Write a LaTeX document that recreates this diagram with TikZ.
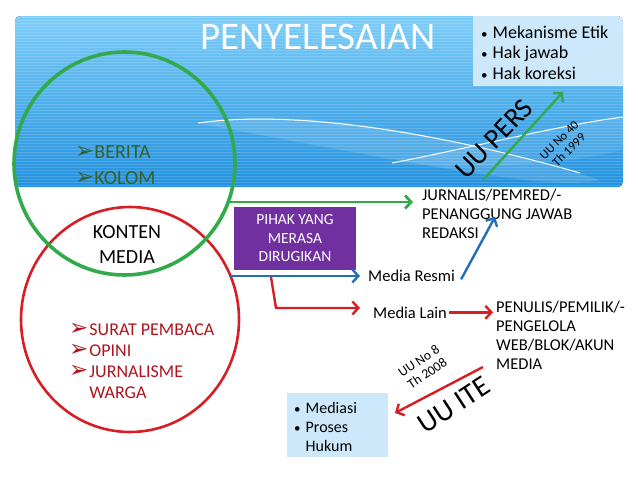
\documentclass[tikz,border=0pt]{standalone}
\usepackage{fontspec}
\setmainfont{Carlito}
\newfontfamily\dejavu{DejaVu Sans}
\usetikzlibrary{arrows.meta,shapes.geometric}
\definecolor{bTop}{RGB}{125,205,248}
\definecolor{bBot}{RGB}{35,145,222}
\definecolor{boxblue}{RGB}{204,232,250}
\definecolor{cgreen}{RGB}{50,170,75}
\definecolor{cred}{RGB}{215,30,35}
\definecolor{cblue}{RGB}{35,110,185}
\definecolor{cpurple}{RGB}{112,48,160}
\definecolor{tdred}{RGB}{175,20,30}
\definecolor{tgreen}{RGB}{55,95,40}
\newcommand{\arrb}{{\dejavu\fontsize{23}{16}\selectfont ➢}}
\newcommand{\dotb}{{\fontsize{13}{13}\selectfont •}}
\begin{document}
\begin{tikzpicture}[x=1pt,y=-1pt,
  arrow/.style={line width=2.4pt,-{Straight Barb[length=6pt,width=13pt]}},
  lbl/.style={inner sep=0pt,anchor=base west,font=\fontsize{16.5}{19}\selectfont},
  plainbox/.style={fill=boxblue,inner sep=0pt,anchor=north west}]
\useasboundingbox (0,0) rectangle (638,479);
% banner
\begin{scope}
  \clip[rounded corners=5pt] (15,16) rectangle (623,187);
  \fill[top color=bTop,bottom color=bBot] (15,16) rectangle (623,187);
  \foreach \yy in {17,20,...,186} \draw[white,opacity=0.16,line width=1pt] (15,\yy) -- (623,\yy);
  \fill[white,opacity=0.14] (198,123) .. controls (290,108) and (430,128) .. (600,180)
     .. controls (560,190) and (470,175) .. (198,123) -- cycle;
  \fill[white,opacity=0.10] (392,163) .. controls (470,150) and (560,125) .. (623,117)
     -- (623,150) .. controls (560,165) and (480,170) .. (392,163) -- cycle;
  \draw[white,line width=1pt] (198,123) .. controls (290,110) and (430,130) .. (580,173);
  \draw[white,line width=1pt] (392,163) .. controls (470,148) and (560,125) .. (623,117);
  \node[plainbox,minimum width=150,minimum height=70] (topbox) at (473,16) {};
\end{scope}
\node[font=\fontsize{39}{42}\selectfont,text=white,anchor=base,inner sep=0pt] (title) at (318,49) {PENYELESAIAN};
\node[lbl,font=\fontsize{18}{20.5}\selectfont] (toplist) at (481,38) {\begin{tabular}[t]{@{}l@{\hspace{5pt}}l@{}}\dotb&Mekanisme Etik\\\dotb&Hak jawab\\\dotb&Hak koreksi\end{tabular}};
% circles
\node[draw=cred,line width=2.6pt,ellipse,minimum width=218,minimum height=225,inner sep=0pt] (rc) at (130,319.5) {};
\node[draw=cgreen,line width=3.6pt,ellipse,minimum width=221,minimum height=223,inner sep=0pt] (gc) at (124.5,163.5) {};
\node[lbl,text=tgreen,font=\fontsize{20}{26}\selectfont] (berita) at (75,158) {\begin{tabular}[t]{@{}l@{\hspace{0pt}}l@{}}\arrb&BERITA\\\arrb&KOLOM\end{tabular}};
\node[inner sep=0pt,align=center,font=\fontsize{20}{25}\selectfont] (konten) at (127,245) {KONTEN\\MEDIA};
\node[lbl,text=tdred,font=\fontsize{18}{21.3}\selectfont] (surat) at (69,335) {\begin{tabular}[t]{@{}l@{\hspace{1pt}}l@{}}\arrb&SURAT PEMBACA\\\arrb&OPINI\\\arrb&JURNALISME\\&WARGA\end{tabular}};
% purple box
\node[fill=cpurple,text=white,minimum width=122,minimum height=63,inner sep=0pt,align=center,font=\fontsize{15.5}{18.5}\selectfont] (pihak) at (295,238.5) {PIHAK YANG\\MERASA\\DIRUGIKAN};
% right texts
\node[lbl] (jurnalis) at (422,200) {\begin{tabular}[t]{@{}l@{}}JURNALIS/PEMRED/-\\PENANGGUNG JAWAB\\REDAKSI\end{tabular}};
\node[lbl] (resmi) at (368,281) {Media Resmi};
\node[lbl] (lain) at (373,318) {Media Lain};
\node[lbl] (penulis) at (496,312) {\begin{tabular}[t]{@{}l@{}}PENULIS/PEMILIK/-\\PENGELOLA\\WEB/BLOK/AKUN\\MEDIA\end{tabular}};
\node[plainbox,minimum width=101,minimum height=64] (medbox) at (287,393) {};
\node[lbl,font=\fontsize{16}{19}\selectfont] (medlist) at (294,413.5) {\begin{tabular}[t]{@{}l@{\hspace{5pt}}l@{}}\dotb&Mediasi\\\dotb&Proses\\&Hukum\end{tabular}};
% rotated labels
\node[rotate=46,inner sep=0pt,font=\fontsize{28}{28}\selectfont] (uupers) at (494,139) {UU PERS};
\node[rotate=45,inner sep=0pt,align=center,font=\fontsize{12.5}{14}\selectfont] (uuno40) at (564,145) {UU No 40\\Th 1999};
\node[rotate=33,inner sep=0pt,font=\fontsize{29}{29}\selectfont] (uuite) at (454,405) {UU ITE};
\node[rotate=34,inner sep=0pt,align=center,font=\fontsize{13.5}{15}\selectfont] (uuno8) at (423,367) {UU No 8\\Th 2008};
% connector ends
\coordinate (gstart) at (229,202);
\coordinate (bstart) at (229,276);
\coordinate (rstart) at (271,277);
\coordinate (rbend) at (276,308);
\coordinate (jtarget) at (495,217);
\coordinate (pstart) at (483,180);
\coordinate (ptarget) at (563,92);
\coordinate (istart) at (483,367);
\coordinate (itarget) at (395,413);
% connectors
\draw[arrow,cgreen,line width=2.8pt] (gstart) -- ([xshift=-9pt]jurnalis.west |- gstart);
\draw[arrow,cblue] (bstart) -- ([xshift=-8pt]resmi.west |- bstart);
\draw[arrow,cred] (rstart) -- (rbend) -- ([xshift=-13pt]lain.west |- rbend);
\draw[arrow,cblue] ([xshift=6pt,yshift=-4pt]resmi.east) -- (jtarget);
\draw[arrow,cred] ([xshift=2pt]lain.east) -- ([xshift=-3pt]penulis.west |- lain.east);
\draw[arrow,cgreen] (pstart) -- (ptarget);
\draw[arrow,cred] (istart) -- (itarget);
\end{tikzpicture}
\end{document}
